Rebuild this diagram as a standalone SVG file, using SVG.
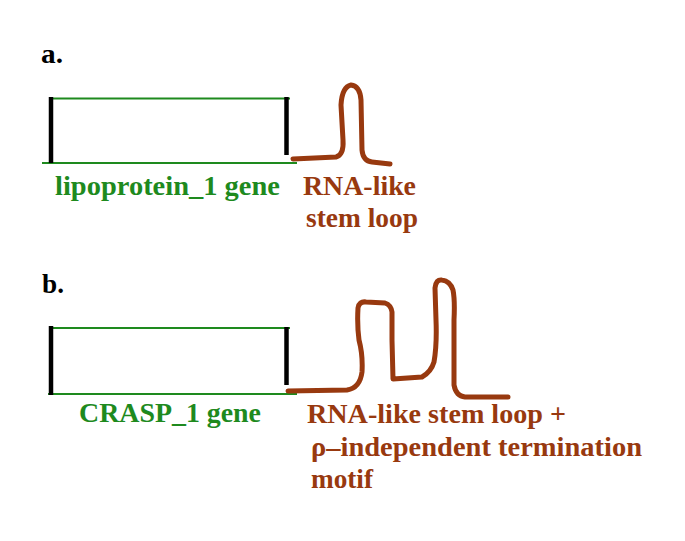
<svg xmlns="http://www.w3.org/2000/svg" width="685" height="541" viewBox="0 0 685 541">
<style>
.t{font-family:"Liberation Serif","Times New Roman",serif;font-weight:bold;font-size:27px}
.k{fill:#000}
.g{fill:#1e8a1e}
.b{fill:#98390f}
.gl{stroke:#1e8a1e;stroke-width:2;fill:none}
.bar{stroke:#000;stroke-width:4.5;fill:none}
.loop{stroke:#98390f;stroke-width:5;fill:none;stroke-linecap:round;stroke-linejoin:round}
</style>
<rect width="685" height="541" fill="#fff"/>
<g id="panel-a">
<text class="t k" x="41" y="63" textLength="22" lengthAdjust="spacingAndGlyphs">a.</text>
<g id="gene-a">
<line class="gl" x1="52" y1="98.5" x2="290" y2="98.5"/>
<line class="gl" x1="42" y1="163" x2="297" y2="163"/>
<line class="bar" x1="51" y1="97" x2="51" y2="163"/>
<line class="bar" x1="286.5" y1="97" x2="286.5" y2="155"/>
<text class="t g" x="55" y="195" textLength="225" lengthAdjust="spacingAndGlyphs">lipoprotein_1 gene</text>
</g>
<g id="loop-a">
<path class="loop" d="M293,159 L336,157 Q344,155 343,140 L341,105 Q342,87 351,85 Q360,86 361,100 L362,150 Q363,161 372,162 L390,164"/>
<text class="t b" x="303" y="195" textLength="113" lengthAdjust="spacingAndGlyphs">RNA-like</text>
<text class="t b" x="306" y="227" textLength="112" lengthAdjust="spacingAndGlyphs">stem loop</text>
</g>
</g>
<g id="panel-b">
<text class="t k" x="42" y="293" textLength="22" lengthAdjust="spacingAndGlyphs">b.</text>
<g id="gene-b">
<line class="gl" x1="52" y1="328" x2="290" y2="328"/>
<line class="gl" x1="48" y1="394" x2="297" y2="394"/>
<line class="bar" x1="51" y1="326" x2="51" y2="395"/>
<line class="bar" x1="286.5" y1="327" x2="286.5" y2="385"/>
<text class="t g" x="79" y="422" textLength="182" lengthAdjust="spacingAndGlyphs">CRASP_1 gene</text>
</g>
<g id="loop-b">
<path class="loop" d="M288,391 L347,390 Q360,388 362,372 Q363,355 359,340 Q357,325 358,308 Q359,301 366,302 L385,303 Q391,305 392,312 L392,340 L393,379 L422,377 Q431,372 434,362 Q437,345 436,320 L435,288 Q436,279 442,280 Q450,281 453,290 Q455,300 454,320 L454,385 Q456,396 465,397 L508,397"/>
<text class="t b" x="307" y="423" textLength="259" lengthAdjust="spacingAndGlyphs">RNA-like stem loop +</text>
<text class="t b" x="311" y="456" textLength="331" lengthAdjust="spacingAndGlyphs">ρ–independent termination</text>
<text class="t b" x="311" y="488" textLength="62" lengthAdjust="spacingAndGlyphs">motif</text>
</g>
</g>
</svg>
